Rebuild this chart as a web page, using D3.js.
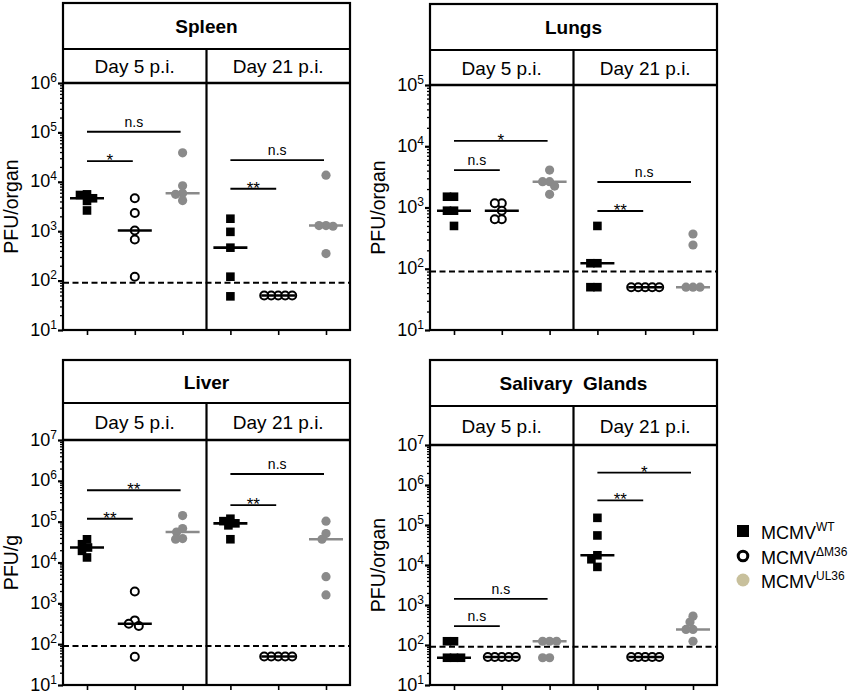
<!DOCTYPE html>
<html>
<head>
<meta charset="utf-8">
<script src="https://cdn.jsdelivr.net/npm/d3@7"></script>
<style>
body { margin: 0; background: #fff; }
svg { font-family: "Liberation Sans", Arial, sans-serif; }
</style>
</head>
<body>
<svg id="fig" width="864" height="695"></svg>
<script>
/* data: PFU values, 5 mice per group */
const organs = ["Spleen", "Lungs", "Liver", "Salivary  Glands"]
const days = ["Day 5 p.i.", "Day 21 p.i."]
const viruses = ["WT", "ΔM36", "UL36"]
const yTitles = ["PFU/organ", "PFU/organ", "PFU/g", "PFU/organ"]
const yTopExp = [6, 5, 7, 7]
const detectionLimit = 90

// [day][virus][mouse]
const spleen = [
  [[5570, 5410, 4640, 4100, 2630], [4640, 2330, 1030, 680, 120], [38600, 8300, 5850, 5580, 4170]],
  [[1790, 970, 464, 120, 48], [50, 50, 50, 50, 50], [13600, 1300, 1300, 1260, 352]]
]
const lungs = [
  [[1500, 1500, 887, 887, 500], [1170, 1170, 887, 641, 641], [4090, 2640, 2640, 2240, 1640]],
  [[500, 123, 123, 50, 50], [50, 50, 50, 50, 50], [369, 244, 50, 50, 50]]
]
const liver = [
  [[37000, 28000, 23300, 19300, 13300], [1940, 382, 317, 279, 49], [141000, 67600, 55800, 38500, 37200]],
  [[118000, 103000, 91000, 81300, 37100], [50, 50, 50, 50, 50], [103000, 51000, 37100, 4490, 1610]]
]
const salivary = [
  [[124, 124, 48, 48, 48], [50, 50, 50, 50, 50], [124, 124, 124, 48, 48]],
  [[151000, 54800, 17500, 13900, 8970], [50, 50, 50, 50, 50], [527, 374, 245, 245, 124]]
]

// [day, from virus, to virus, bar level (PFU), label]
const spleenStats = [[0, 0, 1, 26300, "*"], [0, 0, 2, 103000, "n.s"], [1, 0, 1, 7240, "**"], [1, 0, 2, 27500, "n.s"]]
const lungsStats = [[0, 0, 1, 4090, "n.s"], [0, 0, 2, 12200, "*"], [1, 0, 1, 877, "**"], [1, 0, 2, 2610, "n.s"]]
const liverStats = [[0, 0, 1, 118000, "**"], [0, 0, 2, 588000, "**"], [1, 0, 1, 254000, "**"], [1, 0, 2, 1470000, "n.s"]]
const salivaryStats = [[0, 0, 1, 298, "n.s"], [0, 0, 2, 1420, "n.s"], [1, 0, 1, 412000, "**"], [1, 0, 2, 2040000, "*"]]

const organData = [spleen, lungs, liver, salivary]
const organStats = [spleenStats, lungsStats, liverStats, salivaryStats]

/* layout */
const layout = [
  {x: 63, top: 3, title: 49, header: 83, bottom: 330},
  {x: 430, top: 4, title: 50, header: 85, bottom: 330},
  {x: 63, top: 360, title: 403, header: 440, bottom: 685},
  {x: 430, top: 360, title: 406, header: 445, bottom: 685}
]
const panelW = 287
const gray = "#8a8a8a"
const tan = "#c8c09c"
const colors = ["#000", "#000", gray]

const svg = d3.select("#fig")

const x = d3.scalePoint().domain(d3.range(6)).range([24, 263])

// simple column scatter: spread points sideways when they would overlap
const swarm = (vals, y, minD) => {
  const placed = []
  return vals.map(v => {
    const py = y(v)
    let off = 0
    for (let k = 0; k < 60; k++) {
      const c = k === 0 ? 0 : (k % 2 ? -1 : 1) * Math.ceil(k / 2)
      if (placed.every(p => Math.hypot(p[0] - c, p[1] - py) >= minD)) { off = c; break }
    }
    placed.push([off, py])
    return {off, py, v}
  })
}

organs.forEach((organ, oi) => {
  const L = layout[oi]
  const g = svg.append("g").attr("transform", "translate(" + L.x + ",0)")

  const y = d3.scaleLog()
    .domain([10, Math.pow(10, yTopExp[oi])])
    .range([L.bottom, L.header])

  // y axis: decades + minor ticks
  const majors = d3.range(1, yTopExp[oi] + 1).map(e => Math.pow(10, e))
  const minors = []
  majors.slice(0, -1).forEach(m => { for (let k = 2; k < 10; k++) minors.push(m * k) })

  const minorAxis = g.append("g")
    .call(d3.axisLeft(y).tickValues(minors).tickSize(3).tickSizeOuter(0).tickFormat(""))
  minorAxis.select(".domain").remove()
  minorAxis.selectAll("line").attr("stroke-width", 1.3)

  const majorAxis = g.append("g")
    .call(d3.axisLeft(y).tickValues(majors).tickSize(5).tickSizeOuter(0).tickPadding(1))
  majorAxis.select(".domain").remove()
  majorAxis.selectAll("line").attr("stroke-width", 2.2)
  majorAxis.selectAll("text")
    .attr("dy", 5)
    .attr("font-size", 18)
    .attr("fill", "#000")
    .each(function (d) {
      const t = d3.select(this).text("10")
      t.append("tspan")
        .attr("font-size", 12)
        .attr("dy", -7)
        .text(Math.round(Math.log10(d)))
    })

  // x axis ticks
  const xAxis = g.append("g")
    .attr("transform", "translate(0," + L.bottom + ")")
    .call(d3.axisBottom(x).tickSize(5).tickSizeOuter(0).tickFormat(""))
  xAxis.select(".domain").remove()
  xAxis.selectAll("line").attr("stroke-width", 1.6)

  // y title
  g.append("text")
    .attr("transform", "translate(-45," + (L.header + L.bottom) / 2 + ") rotate(-90)")
    .attr("text-anchor", "middle")
    .attr("font-size", 19.5)
    .text(yTitles[oi])

  // detection limit
  g.append("line")
    .attr("x1", 0).attr("x2", panelW)
    .attr("y1", y(detectionLimit)).attr("y2", y(detectionLimit))
    .attr("stroke", "#000").attr("stroke-width", 2)
    .attr("stroke-dasharray", "6,3.5")

  // points and medians
  organData[oi].forEach((dayVals, di) => {
    dayVals.forEach((vals, vi) => {
      const gi = di * 3 + vi
      const cx = x(gi)
      const pts = swarm(vals, y, 6.5)
      if (vi === 0) {
        g.selectAll(null).data(pts).enter().append("rect")
          .attr("x", p => cx + p.off - 4.3)
          .attr("y", p => p.py - 4.3)
          .attr("width", 8.6).attr("height", 8.6)
          .attr("fill", "#000")
      } else if (vi === 1) {
        g.selectAll(null).data(pts).enter().append("circle")
          .attr("cx", p => cx + p.off)
          .attr("cy", p => p.py)
          .attr("r", 4)
          .attr("fill", "#fff").attr("stroke", "#000").attr("stroke-width", 2)
      } else {
        g.selectAll(null).data(pts).enter().append("circle")
          .attr("cx", p => cx + p.off)
          .attr("cy", p => p.py)
          .attr("r", 4.6)
          .attr("fill", gray)
      }
      const med = d3.median(vals)
      g.append("line")
        .attr("x1", cx - 17).attr("x2", cx + 17)
        .attr("y1", y(med)).attr("y2", y(med))
        .attr("stroke", colors[vi]).attr("stroke-width", 2.6)
    })
  })

  // significance bars
  organStats[oi].forEach(s => {
    const x1 = x(s[0] * 3 + s[1]), x2 = x(s[0] * 3 + s[2]) - 2
    const by = y(s[3])
    g.append("line")
      .attr("x1", x1).attr("x2", x2).attr("y1", by).attr("y2", by)
      .attr("stroke", "#000").attr("stroke-width", 1.8)
    const star = s[4].includes("*")
    g.append("text")
      .attr("x", (x1 + x2) / 2)
      .attr("y", star ? by + 5 : by - 5)
      .attr("text-anchor", "middle")
      .attr("font-size", star ? 17 : 14)
      .text(s[4])
  })

  // frame, title and day headers
  g.append("rect")
    .attr("x", 0).attr("y", L.top)
    .attr("width", panelW).attr("height", L.bottom - L.top)
    .attr("fill", "none").attr("stroke", "#000").attr("stroke-width", 2.2)
  g.append("line")
    .attr("x1", 0).attr("x2", panelW).attr("y1", L.title).attr("y2", L.title)
    .attr("stroke", "#000").attr("stroke-width", 2.2)
  g.append("line")
    .attr("x1", 0).attr("x2", panelW).attr("y1", L.header).attr("y2", L.header)
    .attr("stroke", "#000").attr("stroke-width", 2.6)
  g.append("line")
    .attr("x1", panelW / 2).attr("x2", panelW / 2).attr("y1", L.title).attr("y2", L.bottom)
    .attr("stroke", "#000").attr("stroke-width", 2.2)

  g.append("text")
    .attr("x", panelW / 2)
    .attr("y", (L.top + L.title) / 2 + 7)
    .attr("text-anchor", "middle")
    .attr("font-size", 19)
    .attr("font-weight", "bold")
    .style("white-space", "pre")
    .text(organ)

  days.forEach((d, di) => {
    g.append("text")
      .attr("x", panelW / 4 + di * panelW / 2)
      .attr("y", (L.title + L.header) / 2 + 7)
      .attr("text-anchor", "middle")
      .attr("font-size", 19)
      .text(d)
  })
})

/* legend */
const legend = svg.append("g").attr("transform", "translate(743,0)")
const legendY = [531, 556, 580]
legend.append("rect")
  .attr("x", -6).attr("y", legendY[0] - 6).attr("width", 12).attr("height", 12)
  .attr("fill", "#000")
legend.append("circle")
  .attr("cy", legendY[1]).attr("r", 4.8)
  .attr("fill", "#fff").attr("stroke", "#000").attr("stroke-width", 3)
legend.append("circle")
  .attr("cy", legendY[2]).attr("r", 6.5)
  .attr("fill", tan)
viruses.forEach((v, i) => {
  const t = legend.append("text")
    .attr("x", 18).attr("y", legendY[i] + 8)
    .attr("font-size", 18)
    .text("MCMV")
  t.append("tspan").attr("font-size", 12).attr("dy", -8).text(v)
})
</script>
</body>
</html>
